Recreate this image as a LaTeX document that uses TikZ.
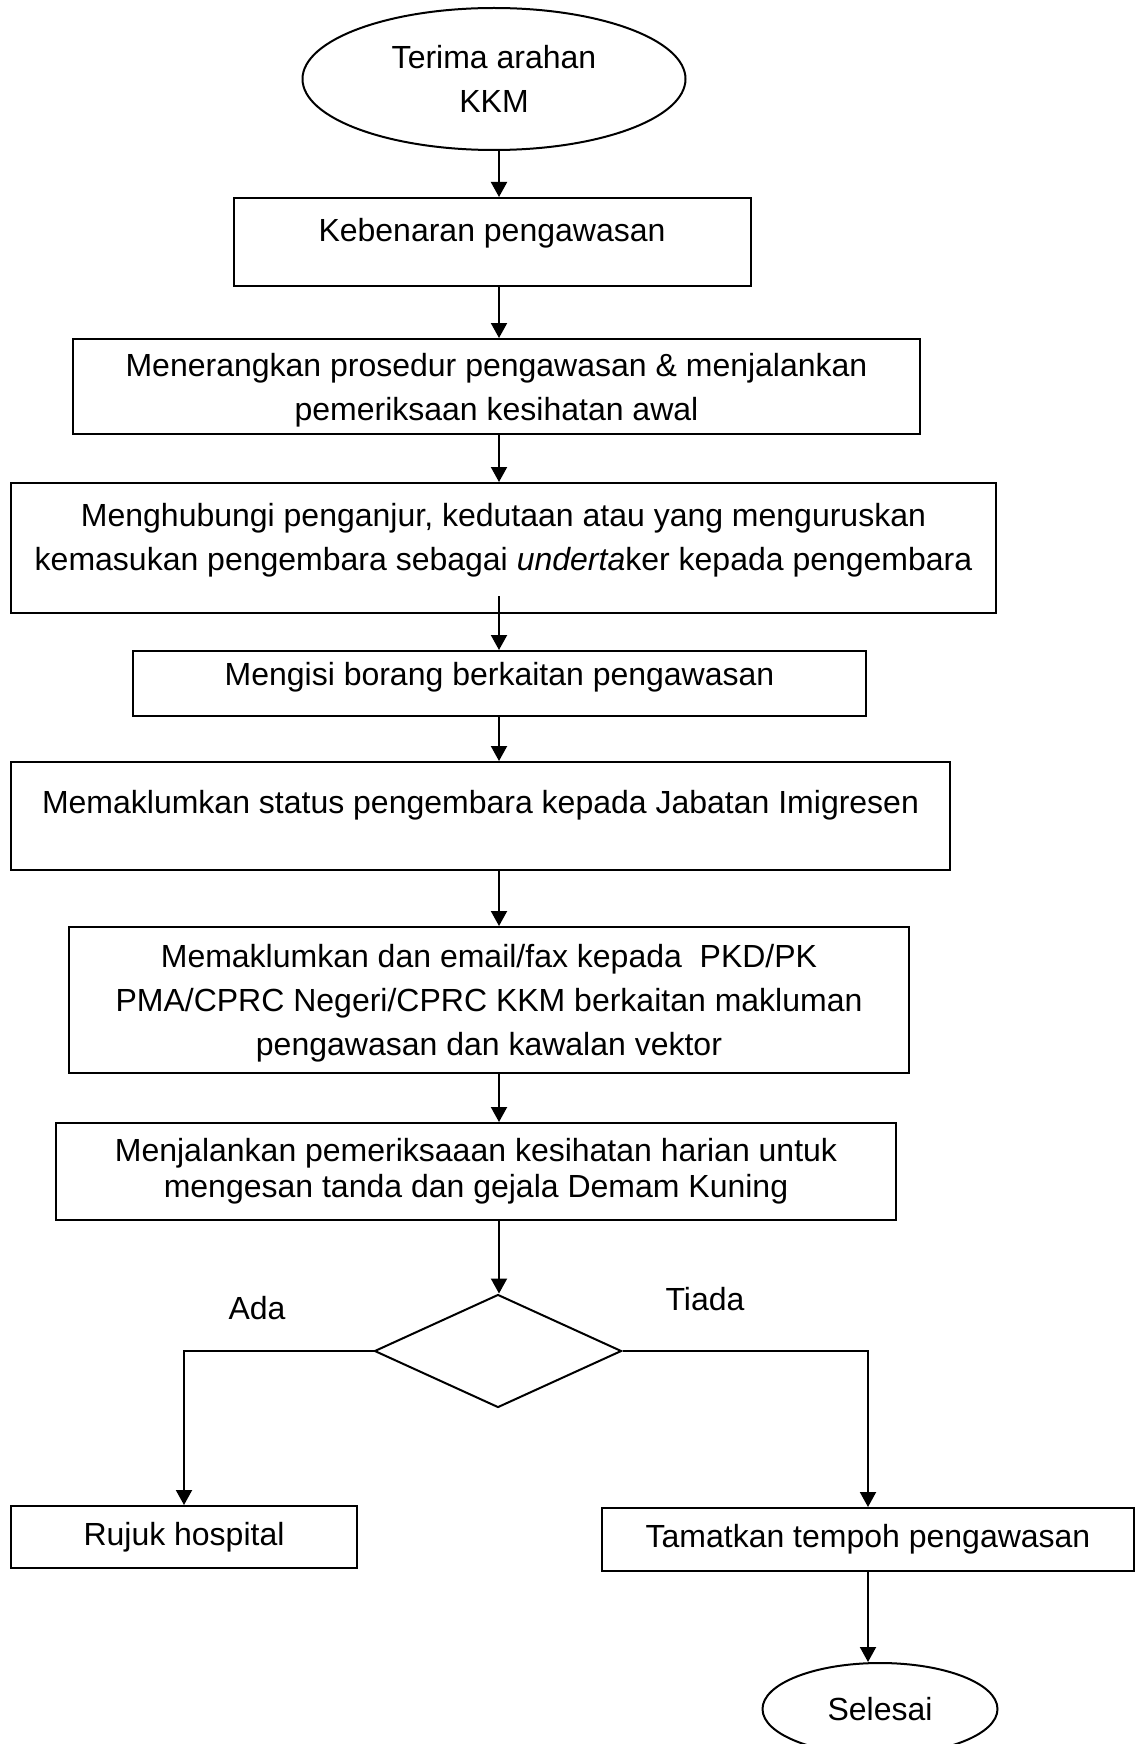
\documentclass[tikz,border=0pt]{standalone}
\usepackage{fontspec}
\setmainfont{Liberation Sans}
\usetikzlibrary{calc}
\usetikzlibrary{arrows.meta}
\usetikzlibrary{shapes.geometric}

\begin{document}
\begin{tikzpicture}[x=.5pt, y=-.5pt, line width=1pt, >={Triangle[width=8pt,length=7.5pt]},
  txt/.style={font=\fontsize{16}{22}\selectfont},
  lead/.style={font=\fontsize{16}{#1}\selectfont},
  stepbox/.style 2 args={draw, rectangle, txt, align=center, inner sep=0,
    minimum width=#1*.5pt, minimum height=#2*.5pt},
  lift/.style={text depth=#1},
  term/.style 2 args={draw, ellipse, txt, align=center, inner sep=0,
    minimum width=#1*.5pt, minimum height=#2*.5pt},
  decision/.style={draw, diamond, inner sep=0, minimum width=123.5pt, minimum height=56.5pt}]
\clip (0,0) rectangle (1141,1744);
\useasboundingbox (0,0) rectangle (1141,1744);

\coordinate (axis) at (499,0);

\node[term={383}{142}] (start) at (494,79) {Terima arahan\\KKM};
\node[stepbox={517}{88}, lift=11.9pt] (b1) at (492,242) {Kebenaran pengawasan};
\node[stepbox={847}{95}, lift=0pt] (b2) at (496.5,386.5) {Menerangkan prosedur pengawasan \& menjalankan\\pemeriksaan kesihatan awal};
\node[stepbox={985}{130}, lift=11.5pt] (b3) at (503.5,548) {Menghubungi penganjur, kedutaan atau yang menguruskan\\kemasukan pengembara sebagai \textit{underta}ker kepada pengembara};
\node[stepbox={733}{65}, lift=9.7pt] (b4) at (499.5,683.5) {Mengisi borang berkaitan pengawasan};
\node[stepbox={939}{108}, lift=13.8pt] (b5) at (480.5,816) {Memaklumkan status pengembara kepada Jabatan Imigresen};
\node[stepbox={840}{146}, lift=0pt] (b6) at (489,1000) {Memaklumkan dan email/fax kepada~ PKD/PK\\PMA/CPRC Negeri/CPRC KKM berkaitan makluman\\pengawasan dan kawalan vektor};
\node[stepbox={840}{97}, lead=18pt] (b7) at (476,1171.5) {Menjalankan pemeriksaaan kesihatan harian untuk\\mengesan tanda dan gejala Demam Kuning};
\node[decision] (dec) at (498,1351) {};
\node[stepbox={346}{62}] (rujuk) at (184,1537) {Rujuk hospital};
\node[stepbox={532}{63}] (tamat) at (868,1539.5) {Tamatkan tempoh pengawasan};
\node[term={235}{92}] (selesai) at (880,1709) {Selesai};

\node[txt] (ada) at (257,1308) {Ada};
\node[txt] (tiada) at (705,1299) {Tiada};

\foreach \a/\b in {start/b1, b1/b2, b2/b3, b4/b5, b5/b6, b6/b7, b7/dec} {
  \draw[->] (\a.south -| axis) -- (\b.north -| axis);
}
\draw[->] ($(b3.south -| axis)+(0,-18)$) -- (b4.north -| axis);
\draw[->] (dec.west) -| (rujuk.north);
\draw[->] (dec.east) -| (tamat.north);
\draw[->] (tamat.south) -- (tamat.south |- selesai.north);
\end{tikzpicture}
\end{document}
